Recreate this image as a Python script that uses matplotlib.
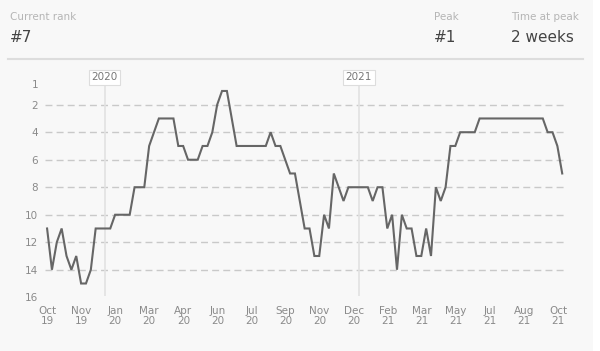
import numpy as np
import pandas as pd
import matplotlib
matplotlib.use("Agg")
import matplotlib.pyplot as plt
import matplotlib.dates as mdates
from matplotlib.patches import Rectangle
from matplotlib.transforms import ScaledTranslation

# weekly chart rank, Oct 2019 - Oct 2021
ranks = [11, 14, 12, 11, 13, 14, 13, 15, 15, 14,
         11, 11, 11, 11, 10, 10, 10, 10, 8, 8,
         8, 5, 4, 3, 3, 3, 3, 5, 5, 6,
         6, 6, 5, 5, 4, 2, 1, 1, 3, 5,
         5, 5, 5, 5, 5, 5, 4, 5, 5, 6,
         7, 7, 9, 11, 11, 13, 13, 10, 11, 7,
         8, 9, 8, 8, 8, 8, 8, 9, 8, 8,
         11, 10, 14, 10, 11, 11, 13, 13, 11, 13,
         8, 9, 8, 5, 5, 4, 4, 4, 4, 3,
         3, 3, 3, 3, 3, 3, 3, 3, 3, 3,
         3, 3, 3, 4, 4, 5, 7]
dates = pd.date_range("2019-10-10", periods=len(ranks), freq="7D")

yticks = [1, 2, 4, 6, 8, 10, 12, 14, 16]
xlabels = ["Oct\n19", "Nov\n19", "Jan\n20", "Mar\n20", "Apr\n20", "Jun\n20",
           "Jul\n20", "Sep\n20", "Nov\n20", "Dec\n20", "Feb\n21", "Mar\n21",
           "May\n21", "Jul\n21", "Aug\n21", "Oct\n21"]
years = ["2020", "2021"]

bg = "#f8f8f8"
fig = plt.figure(figsize=(6, 3.51), dpi=100, facecolor=bg)
fig.patches.append(Rectangle((593 / 600, 0), 7 / 600, 1, transform=fig.transFigure,
                             facecolor="white", edgecolor="none"))

# header
fig.text(10 / 600, 1 - 17 / 351, "Current rank", fontsize=7.5, color="#b5b5b5", va="center")
fig.text(10 / 600, 1 - 38 / 351, "#7", fontsize=11, color="#444444", va="center")
fig.text(434 / 600, 1 - 17 / 351, "Peak", fontsize=7.5, color="#b5b5b5", va="center")
fig.text(434 / 600, 1 - 38 / 351, "#1", fontsize=11, color="#444444", va="center")
fig.text(511 / 600, 1 - 17 / 351, "Time at peak", fontsize=7.5, color="#b5b5b5", va="center")
fig.text(511 / 600, 1 - 38 / 351, "2 weeks", fontsize=11, color="#444444", va="center")
fig.add_artist(plt.Line2D([8 / 600, 583 / 600], [1 - 59 / 351] * 2,
                          transform=fig.transFigure, color="#dddddd", lw=1.5))

ax = fig.add_axes([45 / 600, 1 - 300 / 351, 520 / 600, 232 / 351])
ax.set_facecolor(bg)
for s in ax.spines.values():
    s.set_visible(False)

start = dates[0]
ax.set_xlim(start - pd.Timedelta(days=3), start + pd.Timedelta(days=746))
ax.set_ylim(16.2, -0.67)

for t in yticks[1:-1]:
    ax.axhline(t, color="#c9c9c9", lw=1, ls=(0, (5, 3)), zorder=1)

# year markers
for y in years:
    d = pd.Timestamp(y + "-01-01")
    ax.vlines(d, -0.5, 15.9, color="#e2e2e2", lw=1.2, zorder=1)
    ax.text(d, 0.0, y, ha="center", va="center", fontsize=7.5, color="#777777",
            bbox=dict(facecolor="white", edgecolor="#dddddd", boxstyle="square,pad=0.25", lw=0.8),
            zorder=3)

ax.plot(dates, ranks, color="#666666", lw=1.5, zorder=2, solid_joinstyle="miter")

ax.set_yticks(yticks)
ax.set_yticklabels([str(t) for t in yticks])
tick_dates = pd.date_range(start, "2021-10-15", periods=len(xlabels))
ax.set_xticks(tick_dates)
ax.set_xticklabels(xlabels, linespacing=1.1)
ax.tick_params(length=0, labelsize=7.5, labelcolor="#8a8a8a")
ax.tick_params(axis="y", pad=5)
ax.tick_params(axis="x", pad=4)
lab = ax.get_yticklabels()[0]
lab.set_transform(lab.get_transform() + ScaledTranslation(0, 7 / 100, fig.dpi_scale_trans))

fig.savefig("out.png", dpi=100, facecolor=bg)
